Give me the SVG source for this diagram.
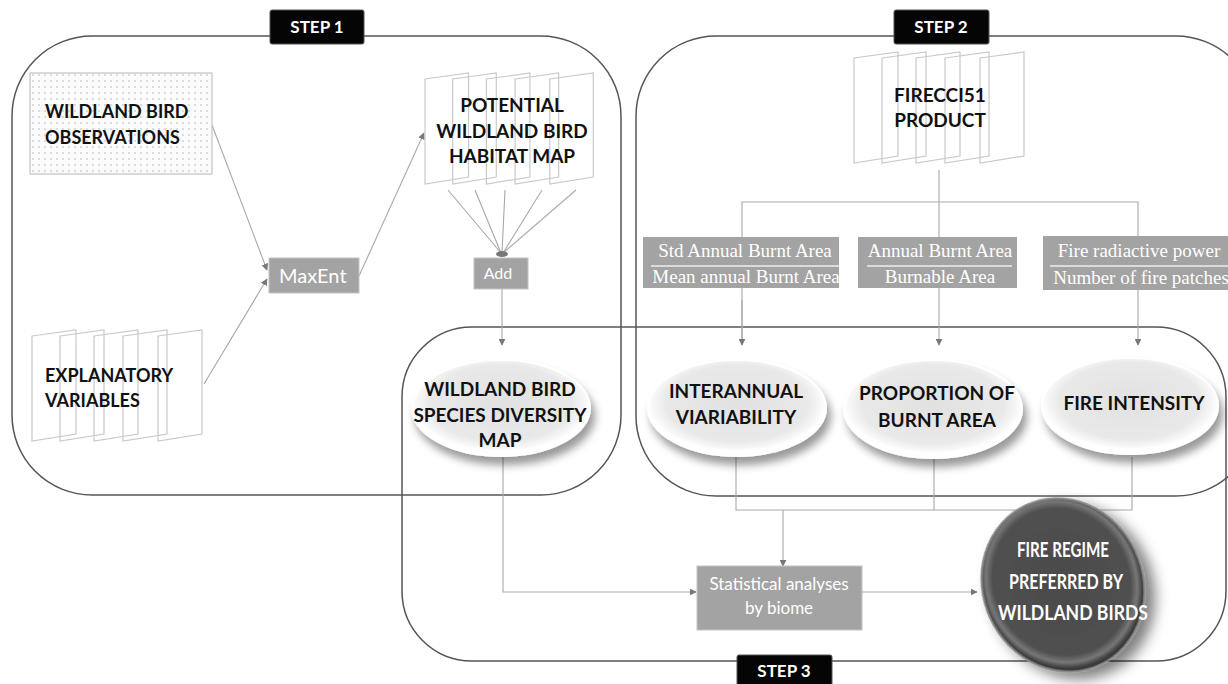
<svg xmlns="http://www.w3.org/2000/svg" width="1228" height="684" viewBox="0 0 1228 684">
<defs>
<style>
.frame{fill:none;stroke:#555;stroke-width:1.5}
.page{fill:none;stroke:#c9c9c9;stroke-width:1.2}
.conn{fill:none;stroke:#a8a8a8;stroke-width:1.1}
.bt{font-family:Lato,"Open Sans",sans-serif;font-weight:bold;fill:#111;font-size:18px}
.et{font-family:Lato,"Open Sans",sans-serif;font-weight:bold;fill:#111;font-size:19px;text-anchor:middle}
.gbox{fill:#a3a3a3;stroke:#c4c4c4;stroke-width:1}
.wt{font-family:Lato,"Open Sans",sans-serif;fill:#fff}
.st{font-family:"Liberation Serif",serif;fill:#fff;font-size:19px;text-anchor:middle}
.lbl{fill:#050505;stroke:#555;stroke-width:1}
.lt{font-family:Lato,"Open Sans",sans-serif;font-weight:bold;fill:#fff;font-size:17px;text-anchor:middle}
.rt{font-family:Lato,"Open Sans",sans-serif;font-weight:bold;fill:#fff;font-size:21px;text-anchor:middle}
</style>
<pattern id="dots" width="6" height="6" patternUnits="userSpaceOnUse">
<rect width="6" height="6" fill="#fbfbfb"/>
<circle cx="3" cy="3" r="0.8" fill="#b5b5b5"/>
</pattern>
<radialGradient id="eg" cx="50%" cy="45%" r="50%">
<stop offset="0" stop-color="#e1e1e1"/>
<stop offset="0.8" stop-color="#e9e9e9"/>
<stop offset="0.95" stop-color="#f8f8f8"/>
<stop offset="1" stop-color="#ffffff"/>
</radialGradient>
<radialGradient id="dg" cx="50%" cy="48%" r="50%">
<stop offset="0" stop-color="#4a4a4a"/>
<stop offset="0.85" stop-color="#505050"/>
<stop offset="0.93" stop-color="#777"/>
<stop offset="1" stop-color="#3a3a3a"/>
</radialGradient>
<filter id="sh" x="-20%" y="-20%" width="150%" height="160%">
<feGaussianBlur in="SourceAlpha" stdDeviation="4"/>
<feOffset dx="4" dy="8" result="b"/>
<feFlood flood-color="#000" flood-opacity="0.4"/>
<feComposite in2="b" operator="in"/>
<feMerge><feMergeNode/><feMergeNode in="SourceGraphic"/></feMerge>
</filter>
<filter id="sh2" x="-30%" y="-30%" width="170%" height="170%">
<feGaussianBlur in="SourceAlpha" stdDeviation="7"/>
<feOffset dx="6" dy="10" result="b"/>
<feFlood flood-color="#000" flood-opacity="0.5"/>
<feComposite in2="b" operator="in"/>
<feMerge><feMergeNode/><feMergeNode in="SourceGraphic"/></feMerge>
</filter>
<marker id="ah" viewBox="0 0 10 10" refX="9" refY="5" markerWidth="7" markerHeight="7" orient="auto" markerUnits="userSpaceOnUse">
<path d="M0,0 L10,5 L0,10 z" fill="#777"/>
</marker>
<g id="stack">
<path class="page" d="M0,6 L44,0 L44,104 L0,111 Z"/>
<path class="page" d="M28,6 L72,0 L72,104 L28,111 Z"/>
<path class="page" d="M62,6 L106,0 L106,104 L62,111 Z"/>
<path class="page" d="M91,6 L135,0 L135,104 L91,111 Z"/>
<path class="page" d="M126,6 L170,0 L170,104 L126,111 Z"/>
</g>
</defs>
<rect width="1228" height="684" fill="#fff"/>

<g id="frames">
<rect id="step1-frame" class="frame" x="12" y="36" width="609" height="459" rx="80" ry="80"/>
<rect id="step2-frame" class="frame" x="636" y="36" width="620" height="460" rx="80" ry="80"/>
<rect id="step3-frame" class="frame" x="402" y="327" width="824" height="334" rx="70" ry="70"/>
</g>

<g id="step1-label"><rect class="lbl" x="270" y="10" width="94" height="34" rx="2"/><text class="lt" x="317" y="33">STEP 1</text></g>
<g id="step2-label"><rect class="lbl" x="894" y="10" width="95" height="34" rx="2"/><text class="lt" x="941" y="33">STEP 2</text></g>
<g id="step3-label"><rect class="lbl" x="737" y="655" width="95" height="34" rx="2"/><text class="lt" x="784" y="677">STEP 3</text></g>

<g id="connectors">
<line class="conn" x1="212" y1="125" x2="267" y2="270" marker-end="url(#ah)"/>
<line class="conn" x1="204" y1="384" x2="267" y2="279" marker-end="url(#ah)"/>
<line class="conn" x1="359" y1="276" x2="424" y2="133" marker-end="url(#ah)"/>
<line class="conn" x1="448" y1="190" x2="501" y2="253"/>
<line class="conn" x1="475" y1="190" x2="501" y2="253"/>
<line class="conn" x1="505" y1="190" x2="502" y2="253"/>
<line class="conn" x1="542" y1="190" x2="503" y2="253"/>
<line class="conn" x1="576" y1="190" x2="503" y2="253"/>
<ellipse cx="502" cy="254" rx="6" ry="3" fill="#777"/>
<line class="conn" x1="502" y1="289" x2="502" y2="345" marker-end="url(#ah)"/>
<polyline class="conn" points="939,170 939,202"/>
<polyline class="conn" points="742,345 742,202 1138,202 1138,345" marker-end="url(#ah)"/>
<line class="conn" x1="742" y1="300" x2="742" y2="345" marker-end="url(#ah)"/>
<line class="conn" x1="939" y1="202" x2="939" y2="345" marker-end="url(#ah)"/>
<polyline class="conn" points="503,457 503,592 696,592" marker-end="url(#ah)"/>
<polyline class="conn" points="736,457 736,510 1132,510 1132,457"/>
<line class="conn" x1="934" y1="458" x2="934" y2="510"/>
<line class="conn" x1="783" y1="510" x2="783" y2="566" marker-end="url(#ah)"/>
<line class="conn" x1="862" y1="592" x2="977" y2="592" marker-end="url(#ah)"/>
</g>

<g id="obs">
<rect x="30" y="73" width="182" height="101" fill="url(#dots)" stroke="#c4c4c4" stroke-width="1.2"/>
<text class="bt" x="45" y="118">WILDLAND BIRD</text>
<text class="bt" x="45" y="144">OBSERVATIONS</text>
</g>

<g id="explanatory">
<use href="#stack" transform="translate(32,330)"/>
<text class="bt" x="45" y="382">EXPLANATORY</text>
<text class="bt" x="45" y="407">VARIABLES</text>
</g>

<g id="maxent">
<rect class="gbox" x="269" y="258" width="90" height="35"/>
<text class="wt" x="279" y="283" font-size="20">MaxEnt</text>
</g>

<g id="habitat">
<use href="#stack" transform="translate(425,73) scale(0.99,1)"/>
<text class="et" x="512" y="112">POTENTIAL</text>
<text class="et" x="512" y="138">WILDLAND BIRD</text>
<text class="et" x="512" y="163">HABITAT MAP</text>
</g>

<g id="add">
<rect class="gbox" x="474" y="258" width="54" height="31"/>
<text class="wt" x="498" y="279" font-size="16" text-anchor="middle">Add</text>
</g>

<g id="firecci">
<use href="#stack" transform="translate(854,52)"/>
<text class="et" x="940" y="102">FIRECCI51</text>
<text class="et" x="940" y="127">PRODUCT</text>
</g>

<g id="f1">
<rect fill="#a3a3a3" x="643" y="237" width="196" height="51"/>
<text class="st" x="745" y="257">Std Annual Burnt Area</text>
<line x1="651" y1="266" x2="839" y2="266" stroke="#eee" stroke-width="1.5"/>
<text class="st" x="746" y="283">Mean annual Burnt Area</text>
</g>
<g id="f2">
<rect fill="#a3a3a3" x="858" y="237" width="159" height="51"/>
<text class="st" x="940" y="257">Annual Burnt Area</text>
<line x1="867" y1="266" x2="1012" y2="266" stroke="#eee" stroke-width="1.5"/>
<text class="st" x="940" y="283">Burnable Area</text>
</g>
<g id="f3">
<rect fill="#a3a3a3" x="1043" y="236" width="190" height="54"/>
<text class="st" x="1139" y="257">Fire radiactive power</text>
<line x1="1050" y1="266" x2="1228" y2="266" stroke="#eee" stroke-width="1.5"/>
<text class="st" x="1141" y="284">Number of fire patches</text>
</g>

<g id="diversity">
<ellipse cx="501" cy="408" rx="89" ry="48" fill="url(#eg)" stroke="#fff" stroke-width="2" filter="url(#sh)"/>
<text class="et" x="500" y="396">WILDLAND BIRD</text>
<text class="et" x="500" y="422">SPECIES DIVERSITY</text>
<text class="et" x="500" y="447">MAP</text>
</g>
<g id="interannual">
<ellipse cx="737" cy="408" rx="89" ry="48" fill="url(#eg)" stroke="#fff" stroke-width="2" filter="url(#sh)"/>
<text class="et" x="736" y="398">INTERANNUAL</text>
<text class="et" x="736" y="424">VIARIABILITY</text>
</g>
<g id="proportion">
<ellipse cx="933" cy="409" rx="89" ry="49" fill="url(#eg)" stroke="#fff" stroke-width="2" filter="url(#sh)"/>
<text class="et" x="937" y="400">PROPORTION OF</text>
<text class="et" x="937" y="427">BURNT AREA</text>
</g>
<g id="intensity">
<ellipse cx="1130" cy="406" rx="88" ry="48" fill="url(#eg)" stroke="#fff" stroke-width="2" filter="url(#sh)"/>
<text class="et" x="1134" y="410">FIRE INTENSITY</text>
</g>

<g id="stats">
<rect class="gbox" x="697" y="566" width="165" height="64"/>
<text class="wt" x="779" y="590" font-size="17" text-anchor="middle">Statistical analyses</text>
<text class="wt" x="779" y="614" font-size="17" text-anchor="middle">by biome</text>
</g>

<g id="regime">
<ellipse cx="1063" cy="585" rx="80" ry="88" transform="rotate(-25 1063 585)" fill="url(#dg)" stroke="#888" stroke-width="2" filter="url(#sh2)"/>
<text class="rt" x="1063" y="557" textLength="92" lengthAdjust="spacingAndGlyphs">FIRE REGIME</text>
<text class="rt" x="1066" y="589" textLength="114" lengthAdjust="spacingAndGlyphs">PREFERRED BY</text>
<text class="rt" x="1073" y="620" textLength="150" lengthAdjust="spacingAndGlyphs">WILDLAND BIRDS</text>
</g>
</svg>
